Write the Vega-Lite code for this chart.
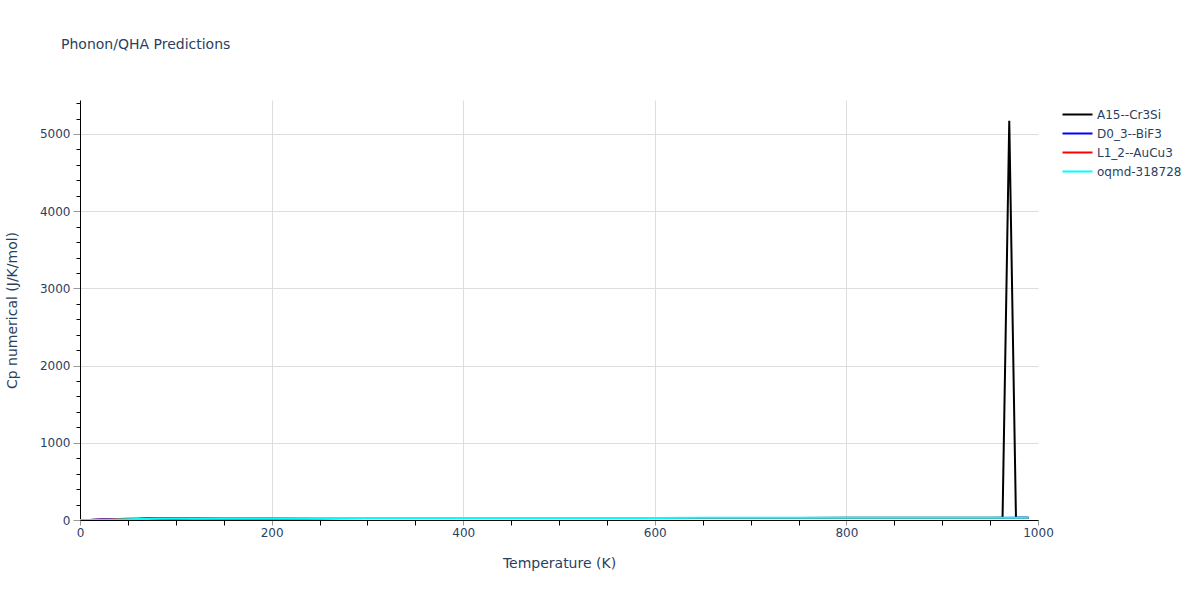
{
  "$schema": "https://vega.github.io/schema/vega-lite/v6.json",
  "width": 958,
  "height": 420,
  "autosize": {"type": "none"},
  "padding": {"left": 80, "top": 100, "right": 162, "bottom": 80},
  "background": "white",
  "config": {
    "view": {"stroke": null},
    "font": "DejaVu Sans"
  },
  "title": {
    "text": "Phonon/QHA Predictions",
    "anchor": "start",
    "frame": "group",
    "dx": -19,
    "offset": 34,
    "baseline": "alphabetic",
    "fontSize": 14,
    "fontWeight": "normal",
    "color": "#2a3f5f",
    "font": "DejaVu Sans"
  },
  "data": {
    "values": [
      {"T": 0, "series": "A15--Cr3Si", "cp": 0},
      {"T": 10, "series": "A15--Cr3Si", "cp": 0.3},
      {"T": 20, "series": "A15--Cr3Si", "cp": 2},
      {"T": 30, "series": "A15--Cr3Si", "cp": 5},
      {"T": 40, "series": "A15--Cr3Si", "cp": 8.5},
      {"T": 50, "series": "A15--Cr3Si", "cp": 11.5},
      {"T": 60, "series": "A15--Cr3Si", "cp": 14},
      {"T": 70, "series": "A15--Cr3Si", "cp": 16},
      {"T": 80, "series": "A15--Cr3Si", "cp": 17.5},
      {"T": 100, "series": "A15--Cr3Si", "cp": 19.8},
      {"T": 120, "series": "A15--Cr3Si", "cp": 21.2},
      {"T": 150, "series": "A15--Cr3Si", "cp": 22.5},
      {"T": 200, "series": "A15--Cr3Si", "cp": 23.6},
      {"T": 250, "series": "A15--Cr3Si", "cp": 24.2},
      {"T": 300, "series": "A15--Cr3Si", "cp": 24.6},
      {"T": 350, "series": "A15--Cr3Si", "cp": 24.9},
      {"T": 400, "series": "A15--Cr3Si", "cp": 25.2},
      {"T": 450, "series": "A15--Cr3Si", "cp": 25.5},
      {"T": 500, "series": "A15--Cr3Si", "cp": 25.8},
      {"T": 550, "series": "A15--Cr3Si", "cp": 26.1},
      {"T": 600, "series": "A15--Cr3Si", "cp": 26.4},
      {"T": 650, "series": "A15--Cr3Si", "cp": 26.7},
      {"T": 700, "series": "A15--Cr3Si", "cp": 27},
      {"T": 750, "series": "A15--Cr3Si", "cp": 27.4},
      {"T": 800, "series": "A15--Cr3Si", "cp": 27.8},
      {"T": 850, "series": "A15--Cr3Si", "cp": 28.2},
      {"T": 900, "series": "A15--Cr3Si", "cp": 28.7},
      {"T": 950, "series": "A15--Cr3Si", "cp": 29.2},
      {"T": 963, "series": "A15--Cr3Si", "cp": 29.4},
      {"T": 970, "series": "A15--Cr3Si", "cp": 5170},
      {"T": 977, "series": "A15--Cr3Si", "cp": 29.6},
      {"T": 990, "series": "A15--Cr3Si", "cp": 30},

      {"T": 0, "series": "D0_3--BiF3", "cp": 0},
      {"T": 10, "series": "D0_3--BiF3", "cp": 1.2},
      {"T": 20, "series": "D0_3--BiF3", "cp": 5},
      {"T": 30, "series": "D0_3--BiF3", "cp": 9.5},
      {"T": 40, "series": "D0_3--BiF3", "cp": 13},
      {"T": 50, "series": "D0_3--BiF3", "cp": 15.5},
      {"T": 60, "series": "D0_3--BiF3", "cp": 17.5},
      {"T": 70, "series": "D0_3--BiF3", "cp": 19},
      {"T": 80, "series": "D0_3--BiF3", "cp": 20},
      {"T": 100, "series": "D0_3--BiF3", "cp": 21.5},
      {"T": 120, "series": "D0_3--BiF3", "cp": 22.4},
      {"T": 150, "series": "D0_3--BiF3", "cp": 23.2},
      {"T": 200, "series": "D0_3--BiF3", "cp": 24},
      {"T": 250, "series": "D0_3--BiF3", "cp": 24.4},
      {"T": 300, "series": "D0_3--BiF3", "cp": 24.7},
      {"T": 350, "series": "D0_3--BiF3", "cp": 25},
      {"T": 400, "series": "D0_3--BiF3", "cp": 25.2},
      {"T": 450, "series": "D0_3--BiF3", "cp": 25.4},
      {"T": 500, "series": "D0_3--BiF3", "cp": 25.6},
      {"T": 550, "series": "D0_3--BiF3", "cp": 25.8},
      {"T": 600, "series": "D0_3--BiF3", "cp": 26},
      {"T": 650, "series": "D0_3--BiF3", "cp": 26.2},
      {"T": 700, "series": "D0_3--BiF3", "cp": 26.4},
      {"T": 750, "series": "D0_3--BiF3", "cp": 26.6},
      {"T": 800, "series": "D0_3--BiF3", "cp": 26.8},
      {"T": 850, "series": "D0_3--BiF3", "cp": 27},
      {"T": 900, "series": "D0_3--BiF3", "cp": 27.2},
      {"T": 950, "series": "D0_3--BiF3", "cp": 27.4},
      {"T": 990, "series": "D0_3--BiF3", "cp": 27.6},

      {"T": 0, "series": "L1_2--AuCu3", "cp": 0},
      {"T": 10, "series": "L1_2--AuCu3", "cp": 0.8},
      {"T": 20, "series": "L1_2--AuCu3", "cp": 4},
      {"T": 30, "series": "L1_2--AuCu3", "cp": 8},
      {"T": 40, "series": "L1_2--AuCu3", "cp": 11.5},
      {"T": 50, "series": "L1_2--AuCu3", "cp": 14.5},
      {"T": 60, "series": "L1_2--AuCu3", "cp": 16.5},
      {"T": 70, "series": "L1_2--AuCu3", "cp": 18},
      {"T": 80, "series": "L1_2--AuCu3", "cp": 19.2},
      {"T": 100, "series": "L1_2--AuCu3", "cp": 20.8},
      {"T": 120, "series": "L1_2--AuCu3", "cp": 21.8},
      {"T": 150, "series": "L1_2--AuCu3", "cp": 22.8},
      {"T": 200, "series": "L1_2--AuCu3", "cp": 23.7},
      {"T": 250, "series": "L1_2--AuCu3", "cp": 24.2},
      {"T": 300, "series": "L1_2--AuCu3", "cp": 24.5},
      {"T": 350, "series": "L1_2--AuCu3", "cp": 24.8},
      {"T": 400, "series": "L1_2--AuCu3", "cp": 25},
      {"T": 450, "series": "L1_2--AuCu3", "cp": 25.2},
      {"T": 500, "series": "L1_2--AuCu3", "cp": 25.4},
      {"T": 550, "series": "L1_2--AuCu3", "cp": 25.6},
      {"T": 600, "series": "L1_2--AuCu3", "cp": 25.8},
      {"T": 650, "series": "L1_2--AuCu3", "cp": 26},
      {"T": 700, "series": "L1_2--AuCu3", "cp": 26.2},
      {"T": 750, "series": "L1_2--AuCu3", "cp": 26.4},
      {"T": 800, "series": "L1_2--AuCu3", "cp": 26.6},
      {"T": 850, "series": "L1_2--AuCu3", "cp": 26.8},
      {"T": 900, "series": "L1_2--AuCu3", "cp": 27},
      {"T": 950, "series": "L1_2--AuCu3", "cp": 27.2},
      {"T": 990, "series": "L1_2--AuCu3", "cp": 27.4},

      {"T": 0, "series": "oqmd-318728", "cp": 0},
      {"T": 10, "series": "oqmd-318728", "cp": 0.2},
      {"T": 20, "series": "oqmd-318728", "cp": 1.5},
      {"T": 30, "series": "oqmd-318728", "cp": 4},
      {"T": 40, "series": "oqmd-318728", "cp": 7},
      {"T": 50, "series": "oqmd-318728", "cp": 10},
      {"T": 60, "series": "oqmd-318728", "cp": 12.5},
      {"T": 70, "series": "oqmd-318728", "cp": 14.5},
      {"T": 80, "series": "oqmd-318728", "cp": 16.2},
      {"T": 100, "series": "oqmd-318728", "cp": 18.8},
      {"T": 120, "series": "oqmd-318728", "cp": 20.5},
      {"T": 150, "series": "oqmd-318728", "cp": 22},
      {"T": 200, "series": "oqmd-318728", "cp": 23.6},
      {"T": 250, "series": "oqmd-318728", "cp": 24.3},
      {"T": 300, "series": "oqmd-318728", "cp": 24.8},
      {"T": 350, "series": "oqmd-318728", "cp": 25.2},
      {"T": 400, "series": "oqmd-318728", "cp": 25.6},
      {"T": 450, "series": "oqmd-318728", "cp": 26},
      {"T": 500, "series": "oqmd-318728", "cp": 26.4},
      {"T": 550, "series": "oqmd-318728", "cp": 26.8},
      {"T": 600, "series": "oqmd-318728", "cp": 27.2},
      {"T": 650, "series": "oqmd-318728", "cp": 27.6},
      {"T": 700, "series": "oqmd-318728", "cp": 28},
      {"T": 750, "series": "oqmd-318728", "cp": 28.4},
      {"T": 800, "series": "oqmd-318728", "cp": 28.8},
      {"T": 850, "series": "oqmd-318728", "cp": 29.2},
      {"T": 900, "series": "oqmd-318728", "cp": 29.6},
      {"T": 950, "series": "oqmd-318728", "cp": 30},
      {"T": 990, "series": "oqmd-318728", "cp": 30.3}
    ]
  },
  "mark": {"type": "line", "strokeWidth": 2, "clip": true},
  "encoding": {
    "x": {
      "field": "T",
      "type": "quantitative",
      "scale": {"domain": [0, 1000], "nice": false, "zero": false},
      "axis": {
        "title": "Temperature (K)",
        "titleFont": "DejaVu Sans",
        "titleFontSize": 14,
        "titleFontWeight": "normal",
        "titleColor": "#2a3f5f",
        "titlePadding": 18,
        "values": [0, 50, 100, 150, 200, 250, 300, 350, 400, 450, 500, 550, 600, 650, 700, 750, 800, 850, 900, 950, 1000],
        "format": "d",
        "labelExpr": "datum.value % 200 === 0 ? datum.label : ''",
        "labelFont": "DejaVu Sans",
        "labelFontSize": 12,
        "labelColor": "#2a3f5f",
        "labelPadding": 2,
        "labelFlush": false,
        "labelOverlap": false,
        "domainColor": "#000000",
        "domainWidth": 1,
        "tickColor": {"condition": {"test": "datum.value % 200 === 0", "value": "#999999"}, "value": "#000000"},
        "tickSize": 5,
        "gridColor": "#dddddd",
        "gridOpacity": {"condition": {"test": "datum.value % 200 === 0 && datum.value > 0 && datum.value < 1000", "value": 1}, "value": 0}
      }
    },
    "y": {
      "field": "cp",
      "type": "quantitative",
      "scale": {"domain": [0, 5440], "nice": false},
      "axis": {
        "title": "Cp numerical (J/K/mol)",
        "titleFont": "DejaVu Sans",
        "titleFontSize": 14,
        "titleFontWeight": "normal",
        "titleColor": "#2a3f5f",
        "titlePadding": 20,
        "values": [0, 200, 400, 600, 800, 1000, 1200, 1400, 1600, 1800, 2000, 2200, 2400, 2600, 2800, 3000, 3200, 3400, 3600, 3800, 4000, 4200, 4400, 4600, 4800, 5000, 5200, 5400],
        "format": "d",
        "labelExpr": "datum.value % 1000 === 0 ? datum.label : ''",
        "labelFont": "DejaVu Sans",
        "labelFontSize": 12,
        "labelColor": "#2a3f5f",
        "labelPadding": 3,
        "labelFlush": false,
        "labelOverlap": false,
        "domainColor": "#000000",
        "domainWidth": 1,
        "tickColor": {"condition": {"test": "datum.value % 1000 === 0", "value": "#999999"}, "value": "#000000"},
        "tickSize": {"condition": {"test": "datum.value % 1000 === 0", "value": 7}, "value": 4},
        "gridColor": "#dddddd",
        "gridOpacity": {"condition": {"test": "datum.value % 1000 === 0 && datum.value > 0", "value": 1}, "value": 0}
      }
    },
    "color": {
      "field": "series",
      "type": "nominal",
      "scale": {
        "domain": ["A15--Cr3Si", "D0_3--BiF3", "L1_2--AuCu3", "oqmd-318728"],
        "range": ["#000000", "#0000ff", "#ff0000", "#00ffff"]
      },
      "legend": {
        "title": null,
        "orient": "none",
        "legendX": 989,
        "legendY": 6,
        "symbolType": "M-2,0H2",
        "symbolSize": 225,
        "symbolStrokeWidth": 2,
        "rowPadding": 4,
        "labelFont": "DejaVu Sans",
        "labelFontSize": 12,
        "labelColor": "#2a3f5f",
        "labelOffset": 11
      }
    }
  }
}
